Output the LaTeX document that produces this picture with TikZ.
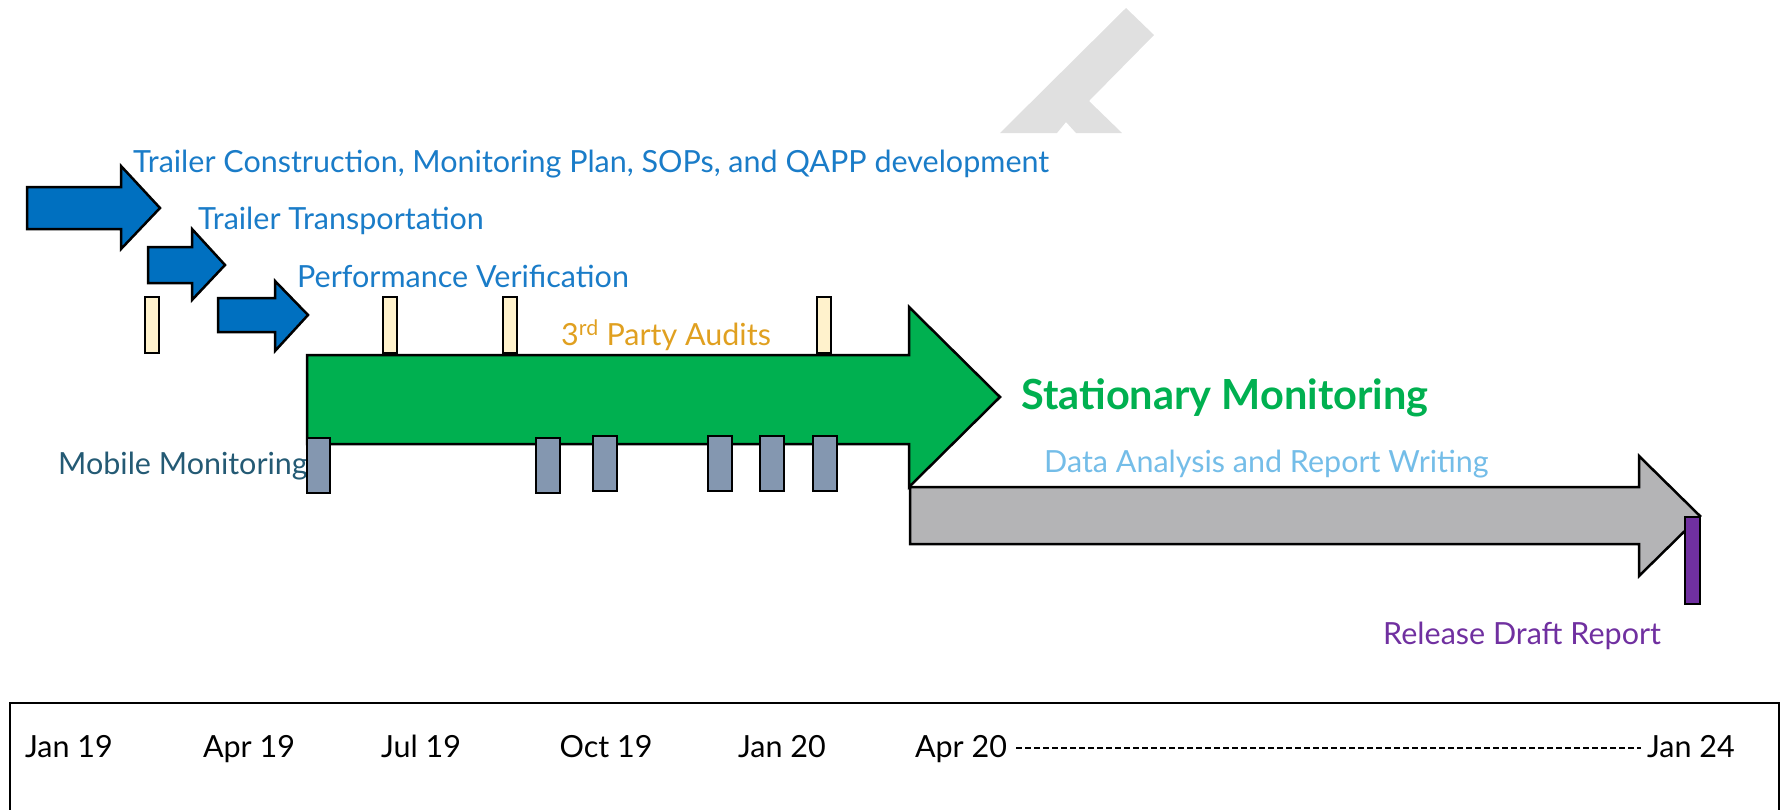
\documentclass[tikz,border=0pt]{standalone}
\usepackage{fontspec}
\setmainfont{Lato}
\definecolor{bluefill}{HTML}{0070C0}
\definecolor{bluetext}{HTML}{1A7CC8}
\definecolor{greenfill}{HTML}{00B050}
\definecolor{grayfill}{HTML}{B4B4B6}
\definecolor{audfill}{HTML}{FFF2CC}
\definecolor{mobfill}{HTML}{8497B0}
\definecolor{purp}{HTML}{7030A0}
\definecolor{datatext}{HTML}{74BDE8}
\definecolor{audtext}{HTML}{E0A020}
\definecolor{mobtext}{HTML}{245A74}
\definecolor{wmark}{HTML}{E0E0E0}
\begin{document}
\begin{tikzpicture}[x=1pt,y=-1pt,
  arrowshape/.style={draw=black, line width=2.5pt, line join=miter},
  auditbar/.style={draw=black, line width=2.5pt, fill=audfill},
  mobbar/.style={draw=black, line width=2.5pt, fill=mobfill},
  lbl/.style={inner sep=0pt, anchor=base west, font=\fontsize{30.5}{32}\selectfont},
  tl/.style={inner sep=0pt, anchor=base, font=\fontsize{30.5}{32}\selectfont}]
\useasboundingbox (0,0) rectangle (1785,809);
% watermark
\fill[wmark] (1000,133) -- (1126,8) -- (1154,35) -- (1089,101) -- (1122,133) -- (1076,133) -- (1066,122) -- (1057,133) -- cycle;
% blue arrows
\draw[arrowshape, fill=bluefill] (27,187) -- (121,187) -- (121,166) -- (160,208) -- (121,249) -- (121,229) -- (27,229) -- cycle;
\draw[arrowshape, fill=bluefill] (148,247) -- (192,247) -- (192,229) -- (225,265) -- (192,300) -- (192,283) -- (148,283) -- cycle;
\draw[arrowshape, fill=bluefill] (218,298) -- (275,298) -- (275,281) -- (308,315) -- (275,351) -- (275,332) -- (218,332) -- cycle;
% green arrow
\draw[arrowshape, fill=greenfill] (307,355) -- (909,355) -- (909,307) -- (1000,397) -- (909,487) -- (909,444) -- (307,444) -- cycle;
% audit bars
\foreach \x in {145,383,503,817}
  \draw[auditbar] (\x,297) rectangle ++(14,56);
% gray arrow
\draw[arrowshape, fill=grayfill] (910,487) -- (1639,487) -- (1639,456) -- (1700,516) -- (1639,576) -- (1639,544) -- (910,544) -- cycle;
% labels
\node[lbl, text=bluetext] (tc) at (133,172) {Trailer Construction, Monitoring Plan, SOPs, and QAPP development};
\node[lbl, text=bluetext] (tt) at (198,229) {Trailer Transportation};
\node[lbl, text=bluetext] (pv) at (297,287) {Performance Verification};
\node[lbl, text=audtext] (aud) at (561,345) {3\textsuperscript{rd} Party Audits};
\node[lbl, text=greenfill, font=\fontsize{41.5}{43}\selectfont\bfseries] (sm) at (1021,409) {Stationary Monitoring};
\node[lbl, text=datatext] (da) at (1044,472) {Data Analysis and Report Writing};
\node[lbl, text=purp] (rd) at (1383,644) {Release Draft Report};
\node[lbl, text=mobtext] (mm) at (58,474) {Mobile Monitoring};
% mobile bars
\draw[mobbar] (307,438) rectangle (330,493);
\draw[mobbar] (536,438) rectangle (560,493);
\foreach \x in {593,708,760,813}
  \draw[mobbar] (\x,436) rectangle ++(24,55);
% purple bar
\draw[draw=black, line width=2.5pt, fill=purp] (1685,517) rectangle (1700,604);
% timeline box
\draw[black, line width=2pt] (10,703) rectangle (1779,812);
\node[tl] (t1) at (69,757) {Jan 19};
\node[tl] (t2) at (249,757) {Apr 19};
\node[tl] (t3) at (421,757) {Jul 19};
\node[tl] (t4) at (606,757) {Oct 19};
\node[tl] (t5) at (782,757) {Jan 20};
\node[tl] (t6) at (961,757) {Apr 20};
\node[tl] (t7) at (1691,757) {Jan 24};
\draw[line width=2pt, dash pattern=on 6pt off 3pt] ([xshift=9pt,yshift=9pt]t6.base east) -- ([xshift=-6pt,yshift=9pt]t7.base west);
\end{tikzpicture}
\end{document}
